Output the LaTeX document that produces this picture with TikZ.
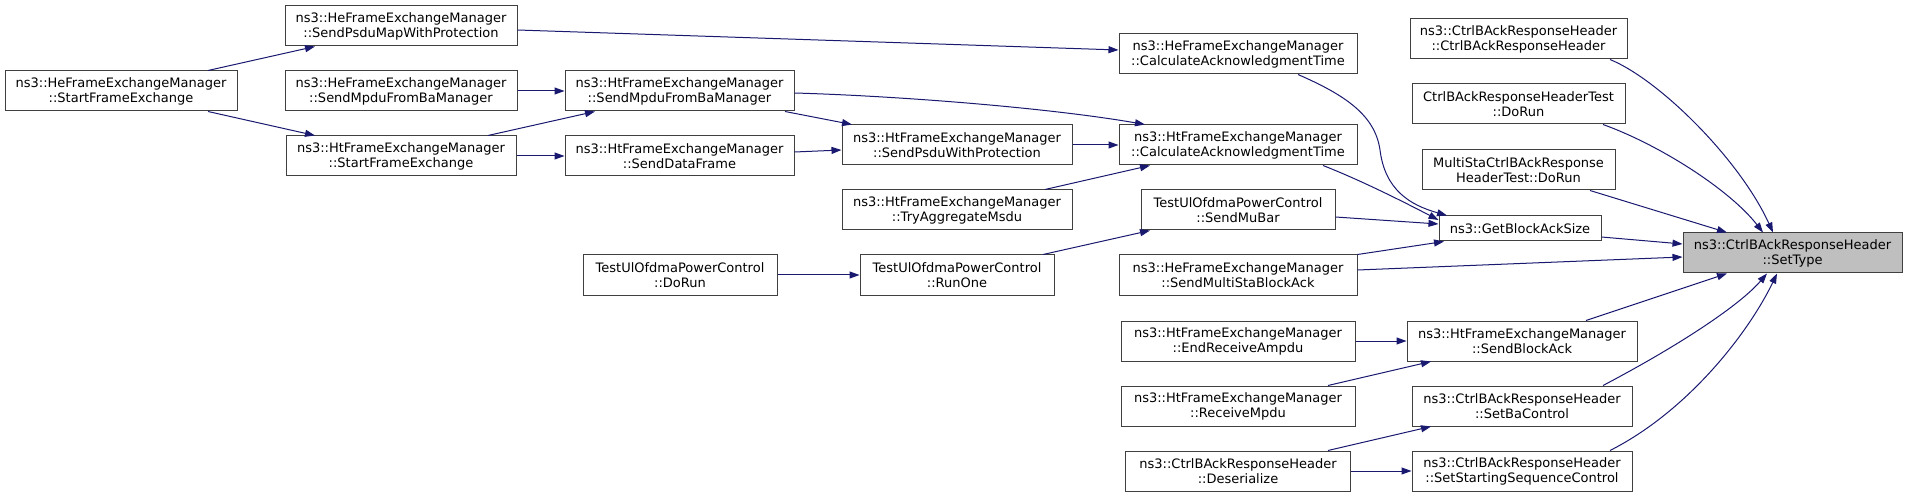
\documentclass[tikz,border=0pt]{standalone}
\usepackage{fontspec}
\setmainfont{DejaVu Sans}
\usetikzlibrary{arrows.meta,calc}
\definecolor{edgeblue}{HTML}{191970}
\definecolor{boxborder}{HTML}{404040}
\definecolor{targetfill}{HTML}{BFBFBF}
\tikzset{
  fbox/.style={draw=boxborder, line width=1pt, fill=white, rectangle, inner sep=0pt,
    minimum height=40pt, align=center, font=\fontsize{13pt}{15pt}\selectfont},
  tgt/.style={fbox, fill=targetfill},
  call/.style={draw=edgeblue, line width=1pt, -{Triangle[length=10pt,width=7pt]}},
}
\begin{document}
\begin{tikzpicture}[x=1pt,y=-1pt]
\useasboundingbox (0,0) rectangle (1907,497);
% nodes
\node[fbox, minimum width=232pt] (hSFE) at (121,91) {ns3::HeFrameExchangeManager\\::StartFrameExchange};
\node[fbox, minimum width=232pt] (hSPM) at (401,26) {ns3::HeFrameExchangeManager\\::SendPsduMapWithProtection};
\node[fbox, minimum width=232pt] (hSMB) at (401,91) {ns3::HeFrameExchangeManager\\::SendMpduFromBaManager};
\node[fbox, minimum width=230pt] (tSFE) at (401,156) {ns3::HtFrameExchangeManager\\::StartFrameExchange};
\node[fbox, minimum width=229pt] (tSMB) at (679.5,91) {ns3::HtFrameExchangeManager\\::SendMpduFromBaManager};
\node[fbox, minimum width=229pt] (tSDF) at (679.5,156) {ns3::HtFrameExchangeManager\\::SendDataFrame};
\node[fbox, minimum width=230pt] (tSPW) at (957,145) {ns3::HtFrameExchangeManager\\::SendPsduWithProtection};
\node[fbox, minimum width=230pt] (tTAM) at (957,210) {ns3::HtFrameExchangeManager\\::TryAggregateMsdu};
\node[fbox, minimum width=238pt] (hCAT) at (1238,54) {ns3::HeFrameExchangeManager\\::CalculateAcknowledgmentTime};
\node[fbox, minimum width=238pt] (tCAT) at (1238,145) {ns3::HtFrameExchangeManager\\::CalculateAcknowledgmentTime};
\node[fbox, minimum width=194pt] (mubar) at (1238,210) {TestUlOfdmaPowerControl\\::SendMuBar};
\node[fbox, minimum width=194pt] (runone) at (957,275) {TestUlOfdmaPowerControl\\::RunOne};
\node[fbox, minimum width=194pt] (udorun) at (680,275) {TestUlOfdmaPowerControl\\::DoRun};
\node[fbox, minimum width=162pt, minimum height=25pt] (gbas) at (1520,228.5) {ns3::GetBlockAckSize};
\node[fbox, minimum width=217pt] (ctor) at (1518.5,39) {ns3::CtrlBAckResponseHeader\\::CtrlBAckResponseHeader};
\node[fbox, minimum width=213pt] (ctest) at (1518.5,104) {CtrlBAckResponseHeaderTest\\::DoRun};
\node[fbox, minimum width=193pt] (multi) at (1518.5,170) {MultiStaCtrlBAckResponse\\HeaderTest::DoRun};
\node[tgt, minimum width=219pt] (settype) at (1792.5,253) {ns3::CtrlBAckResponseHeader\\::SetType};
\node[fbox, minimum width=238pt] (smsba) at (1238,275) {ns3::HeFrameExchangeManager\\::SendMultiStaBlockAck};
\node[fbox, minimum width=234pt] (endamp) at (1238,341) {ns3::HtFrameExchangeManager\\::EndReceiveAmpdu};
\node[fbox, minimum width=230pt] (sba) at (1522,341) {ns3::HtFrameExchangeManager\\::SendBlockAck};
\node[fbox, minimum width=234pt] (rmpdu) at (1238,406) {ns3::HtFrameExchangeManager\\::ReceiveMpdu};
\node[fbox, minimum width=220pt] (sbac) at (1522,406) {ns3::CtrlBAckResponseHeader\\::SetBaControl};
\node[fbox, minimum width=225pt] (deser) at (1238,471) {ns3::CtrlBAckResponseHeader\\::Deserialize};
\node[fbox, minimum width=220pt] (sssc) at (1522,471) {ns3::CtrlBAckResponseHeader\\::SetStartingSequenceControl};
% edges
\draw[call] ([xshift=87pt]hSFE.north) -- ([xshift=-86pt]hSPM.south);
\draw[call] ([xshift=87pt]hSFE.south) -- ([xshift=-86pt]tSFE.north);
\draw[call] ([yshift=-4pt]hSPM.east) -- ([yshift=4pt]hCAT.west);
\draw[call] (hSMB.east) -- (tSMB.west);
\draw[call] ([xshift=87pt]tSFE.north) -- ([xshift=-84.5pt]tSMB.south);
\draw[call] (tSFE.east) -- (tSDF.west);
\draw[call] ([yshift=-2pt]tSMB.east) .. controls (900,96) and (1050,108) .. ([xshift=-93pt]tCAT.north);
\draw[call] ([xshift=105.5pt]tSMB.south) -- ([xshift=-105pt]tSPW.north);
\draw[call] ([yshift=4pt]tSDF.east) -- ([yshift=-5pt]tSPW.west);
\draw[call] (tSPW.east) -- (tCAT.west);
\draw[call] ([xshift=88pt]tTAM.north) -- ([xshift=-88pt]tCAT.south);
\draw[call] (udorun.east) -- (runone.west);
\draw[call] ([xshift=86pt]runone.north) -- ([xshift=-88pt]mubar.south);
\draw[call] ([xshift=60pt]hCAT.south) .. controls (1345,95) and (1375,115) .. (1380,150)
   .. controls (1385,190) and (1410,205) .. ([xshift=-73pt]gbas.north);
\draw[call] ([xshift=85pt]tCAT.south) .. controls (1360,180) and (1400,200) .. ([yshift=8.5pt]gbas.west);
\draw[call] ([yshift=-7pt]mubar.east) -- ([yshift=4.5pt]gbas.west);
\draw[call] (smsba.north east) -- ([xshift=-76pt]gbas.south);
\draw[call] ([yshift=5pt]smsba.east) -- ([yshift=-4pt]settype.west);
\draw[call] ([yshift=-8.5pt]gbas.east) -- ([yshift=9pt]settype.west);
\draw[call] ([xshift=91.5pt]ctor.south) .. controls (1660,80) and (1740,160) .. ([xshift=-19.5pt]settype.north);
\draw[call] ([xshift=84.5pt]ctest.south) .. controls (1660,145) and (1730,190) .. ([xshift=-29.5pt]settype.north);
\draw[call] ([xshift=71.5pt]multi.south) -- ([xshift=-65.5pt]settype.north);
\draw[call] ([xshift=64pt]sba.north) -- ([xshift=-65.5pt]settype.south);
\draw[call] ([xshift=81pt]sbac.north) .. controls (1680,345) and (1740,305) .. ([xshift=-25.5pt]settype.south);
\draw[call] ([xshift=88pt]sssc.north) .. controls (1690,410) and (1750,330) .. ([xshift=-15.5pt]settype.south);
\draw[call] (endamp.east) -- (sba.west);
\draw[call] ([xshift=90pt]rmpdu.north) -- ([xshift=-91pt]sba.south);
\draw[call] ([xshift=90pt]deser.north) -- ([xshift=-91pt]sbac.south);
\draw[call] (deser.east) -- (sssc.west);
\end{tikzpicture}
\end{document}
